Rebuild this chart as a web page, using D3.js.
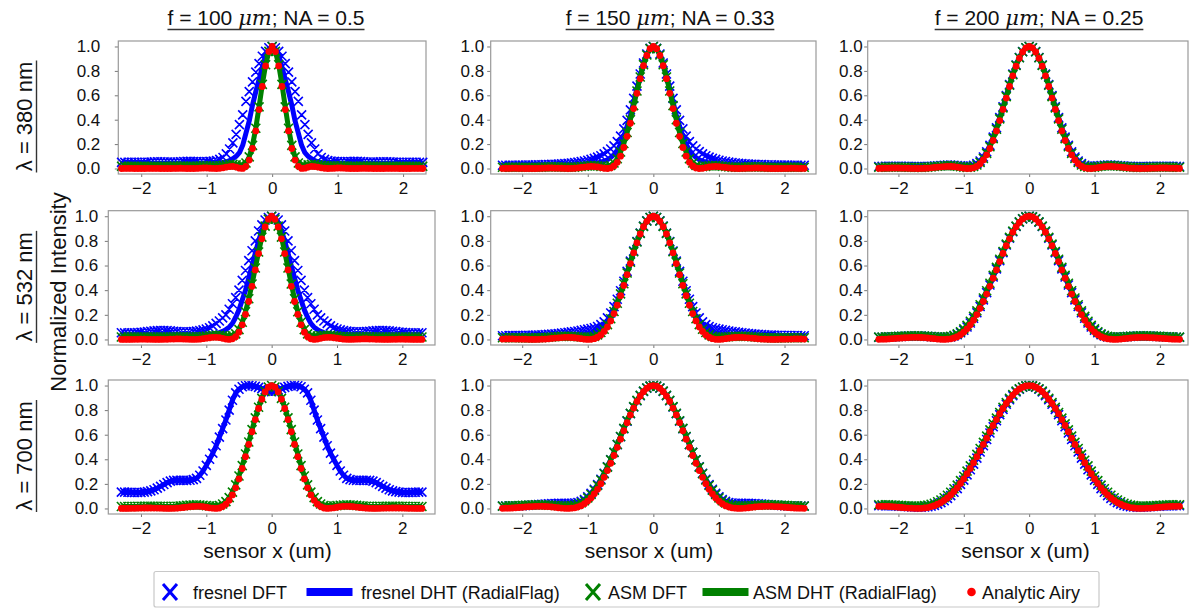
<!DOCTYPE html>
<html>
<head>
<meta charset="utf-8">
<script src="https://cdn.jsdelivr.net/npm/d3@7"></script>
<style>
  body { margin: 0; background: #fff; }
  svg { display: block; }
  text { font-family: "Liberation Sans", Arial, sans-serif; fill: #111; }
</style>
</head>
<body>
<svg id="fig" width="1189" height="609"></svg>
<script>
// sensor positions (um); profiles are radially symmetric so only x >= 0 is listed
var xHalf = [0,0.05,0.1,0.15,0.2,0.25,0.3,0.35,0.4,0.45,
             0.5,0.55,0.6,0.65,0.7,0.75,0.8,0.85,0.9,0.95,
             1.0,1.05,1.1,1.15,1.2,1.25,1.3,1.35,1.4,1.45,
             1.5,1.55,1.6,1.65,1.7,1.75,1.8,1.85,1.9,1.95,
             2.0,2.05,2.1,2.15,2.2,2.25,2.3];

var wavelengths = ["380", "532", "700"];
var focalLengths = ["100", "150", "200"];
var apertures = ["0.5", "0.33", "0.25"];
var xTicks = [-2, -1, 0, 1, 2];
var yTicks = [0, 0.2, 0.4, 0.6, 0.8, 1.0];
var legendLabels = ["fresnel DFT", "fresnel DHT (RadialFlag)", "ASM DFT", "ASM DHT (RadialFlag)", "Analytic Airy"];

// ---- lambda = 380 nm ----
var airy_380_050 = [1.000,0.958,0.841,0.672,0.483,0.308,0.164,0.069,0.018,0.001,
  0.003,0.012,0.017,0.016,0.012,0.006,0.002,0.000,0.001,0.002,
  0.004,0.004,0.003,0.001,0.000,0.000,0.000,0.001,0.002,0.001,
  0.001,0.000,0.000,0.000,0.000,0.001,0.001,0.001,0.001,0.000,
  0.000,0.000,0.000,0.001,0.001,0.001,0.000];
var asm_380_050 = [1.000,0.960,0.850,0.690,0.505,0.330,0.190,0.095,0.045,0.027,
  0.025,0.030,0.034,0.034,0.030,0.026,0.022,0.020,0.020,0.021,
  0.022,0.022,0.021,0.020,0.019,0.019,0.019,0.020,0.020,0.020,
  0.020,0.019,0.019,0.019,0.019,0.019,0.019,0.019,0.019,0.019,
  0.019,0.019,0.019,0.019,0.019,0.019,0.019];
var fresDHT_380_050 = [1.000,0.980,0.930,0.830,0.730,0.630,0.520,0.390,0.290,0.190,
  0.130,0.100,0.080,0.065,0.055,0.050,0.048,0.046,0.045,0.045,
  0.045,0.045,0.045,0.044,0.044,0.044,0.044,0.044,0.044,0.044,
  0.043,0.043,0.043,0.043,0.043,0.043,0.043,0.043,0.042,0.042,
  0.042,0.042,0.042,0.042,0.042,0.042,0.042];
var fresDFT_380_050 = [1.000,0.990,0.960,0.920,0.860,0.790,0.710,0.630,0.550,0.440,
  0.360,0.280,0.210,0.160,0.120,0.090,0.075,0.065,0.060,0.058,
  0.056,0.055,0.055,0.056,0.057,0.058,0.058,0.057,0.055,0.053,
  0.052,0.052,0.053,0.054,0.055,0.055,0.054,0.052,0.051,0.050,
  0.050,0.050,0.051,0.051,0.051,0.050,0.050];

var airy_380_033 = [1.000,0.982,0.926,0.842,0.736,0.616,0.491,0.371,0.264,0.172,
  0.101,0.051,0.021,0.005,0.000,0.002,0.008,0.013,0.016,0.017,
  0.015,0.012,0.009,0.005,0.002,0.001,0.000,0.001,0.002,0.003,
  0.003,0.004,0.004,0.003,0.002,0.001,0.000,0.000,0.000,0.000,
  0.001,0.001,0.002,0.002,0.001,0.001,0.001];
var asm_380_033 = [1.000,0.983,0.930,0.850,0.750,0.635,0.515,0.400,0.295,0.205,
  0.135,0.080,0.045,0.025,0.016,0.015,0.018,0.022,0.024,0.024,
  0.022,0.019,0.016,0.013,0.011,0.010,0.010,0.011,0.012,0.013,
  0.013,0.013,0.013,0.012,0.011,0.010,0.010,0.010,0.010,0.010,
  0.010,0.010,0.011,0.011,0.010,0.010,0.010];
var fresDHT_380_033 = [1.000,0.984,0.934,0.857,0.762,0.655,0.545,0.440,0.345,0.265,
  0.200,0.150,0.115,0.090,0.072,0.060,0.052,0.046,0.042,0.039,
  0.037,0.035,0.034,0.033,0.032,0.031,0.030,0.030,0.029,0.029,
  0.028,0.028,0.028,0.027,0.027,0.027,0.027,0.026,0.026,0.026,
  0.026,0.026,0.026,0.026,0.026,0.026,0.026];
var fresDFT_380_033 = [1.000,0.985,0.938,0.865,0.775,0.675,0.575,0.480,0.395,0.325,
  0.265,0.220,0.185,0.160,0.138,0.120,0.105,0.093,0.083,0.075,
  0.068,0.062,0.057,0.052,0.048,0.045,0.042,0.040,0.038,0.036,
  0.035,0.034,0.033,0.032,0.031,0.030,0.030,0.029,0.029,0.028,
  0.028,0.028,0.027,0.027,0.027,0.027,0.027];

var airy_380_025 = [1.000,0.989,0.955,0.904,0.839,0.760,0.672,0.577,0.484,0.393,
  0.308,0.230,0.164,0.112,0.070,0.039,0.018,0.006,0.001,0.000,
  0.003,0.007,0.012,0.015,0.017,0.017,0.016,0.014,0.012,0.009,
  0.006,0.003,0.002,0.001,0.000,0.001,0.001,0.002,0.003,0.003,
  0.004,0.004,0.004,0.003,0.003,0.002,0.001];
var asm_380_025 = [1.000,0.990,0.957,0.908,0.845,0.768,0.682,0.589,0.497,0.407,
  0.322,0.245,0.178,0.124,0.082,0.050,0.029,0.016,0.010,0.009,
  0.011,0.015,0.019,0.022,0.024,0.024,0.023,0.021,0.019,0.016,
  0.013,0.011,0.010,0.009,0.009,0.009,0.010,0.010,0.011,0.011,
  0.012,0.012,0.012,0.011,0.011,0.010,0.010];
var fresDFT_380_025 = [1.000,0.990,0.958,0.910,0.848,0.773,0.688,0.597,0.506,0.417,
  0.333,0.257,0.190,0.136,0.094,0.062,0.040,0.027,0.020,0.018,
  0.019,0.022,0.025,0.027,0.028,0.028,0.027,0.025,0.023,0.021,
  0.019,0.017,0.016,0.016,0.016,0.016,0.016,0.017,0.017,0.018,
  0.018,0.018,0.018,0.018,0.017,0.017,0.016];

// ---- lambda = 532 nm ----
var airy_532_050 = [1.000,0.976,0.913,0.817,0.697,0.564,0.431,0.308,0.203,0.119,
  0.059,0.022,0.005,0.000,0.003,0.009,0.015,0.017,0.017,0.014,
  0.010,0.006,0.002,0.001,0.000,0.001,0.002,0.003,0.004,0.004,
  0.003,0.003,0.001,0.001,0.000,0.000,0.000,0.001,0.001,0.002,
  0.002,0.001,0.001,0.000,0.000,0.000,0.000];
var asm_532_050 = [1.000,0.977,0.920,0.830,0.710,0.580,0.450,0.330,0.225,0.140,
  0.080,0.045,0.030,0.025,0.027,0.030,0.033,0.034,0.033,0.030,
  0.027,0.024,0.022,0.021,0.020,0.020,0.020,0.021,0.021,0.021,
  0.021,0.020,0.020,0.020,0.020,0.020,0.020,0.020,0.020,0.020,
  0.020,0.020,0.020,0.020,0.020,0.020,0.020];
var fresDHT_532_050 = [1.000,0.985,0.950,0.880,0.800,0.700,0.600,0.500,0.400,0.320,
  0.240,0.180,0.130,0.100,0.080,0.065,0.055,0.050,0.045,0.043,
  0.042,0.041,0.041,0.040,0.040,0.040,0.040,0.040,0.040,0.040,
  0.040,0.040,0.040,0.040,0.040,0.040,0.040,0.040,0.040,0.040,
  0.040,0.040,0.040,0.040,0.040,0.040,0.040];
var fresDFT_532_050 = [1.000,0.990,0.970,0.930,0.880,0.800,0.720,0.640,0.560,0.480,
  0.400,0.340,0.290,0.245,0.200,0.175,0.150,0.130,0.110,0.095,
  0.085,0.078,0.072,0.068,0.065,0.063,0.062,0.062,0.063,0.065,
  0.067,0.070,0.072,0.073,0.073,0.072,0.070,0.067,0.064,0.060,
  0.057,0.055,0.053,0.052,0.052,0.053,0.054];

var airy_532_033 = [1.000,0.990,0.959,0.915,0.856,0.784,0.703,0.616,0.526,0.438,
  0.355,0.278,0.210,0.150,0.101,0.065,0.037,0.018,0.006,0.001,
  0.000,0.002,0.006,0.010,0.014,0.016,0.017,0.017,0.015,0.013,
  0.011,0.008,0.005,0.003,0.002,0.001,0.000,0.000,0.001,0.002,
  0.002,0.003,0.003,0.004,0.004,0.004,0.003];
var asm_532_033 = [1.000,0.990,0.961,0.918,0.861,0.791,0.712,0.627,0.539,0.452,
  0.370,0.294,0.227,0.168,0.120,0.083,0.056,0.037,0.025,0.019,
  0.017,0.018,0.020,0.022,0.024,0.025,0.026,0.026,0.025,0.024,
  0.022,0.020,0.018,0.016,0.015,0.014,0.013,0.013,0.013,0.013,
  0.013,0.014,0.014,0.014,0.014,0.014,0.014];
var fresDHT_532_033 = [1.000,0.990,0.961,0.919,0.862,0.793,0.715,0.631,0.545,0.460,
  0.380,0.308,0.245,0.190,0.145,0.110,0.085,0.068,0.057,0.050,
  0.046,0.044,0.042,0.041,0.040,0.039,0.038,0.037,0.036,0.035,
  0.034,0.033,0.032,0.031,0.030,0.030,0.029,0.029,0.029,0.028,
  0.028,0.028,0.028,0.028,0.028,0.028,0.028];
var fresDFT_532_033 = [1.000,0.990,0.962,0.920,0.863,0.795,0.718,0.636,0.553,0.472,
  0.395,0.326,0.266,0.215,0.175,0.143,0.120,0.105,0.095,0.089,
  0.084,0.079,0.074,0.069,0.065,0.061,0.057,0.054,0.051,0.048,
  0.045,0.043,0.041,0.039,0.037,0.036,0.035,0.034,0.033,0.033,
  0.032,0.032,0.031,0.031,0.031,0.030,0.030];

var airy_532_025 = [1.000,0.995,0.978,0.950,0.914,0.871,0.817,0.761,0.698,0.632,
  0.564,0.497,0.431,0.368,0.308,0.253,0.202,0.156,0.119,0.086,
  0.060,0.039,0.022,0.012,0.005,0.002,0.000,0.001,0.003,0.006,
  0.009,0.012,0.015,0.016,0.017,0.017,0.017,0.015,0.014,0.012,
  0.010,0.008,0.006,0.004,0.002,0.002,0.001];
var asm_532_025 = [1.000,0.995,0.980,0.954,0.920,0.879,0.828,0.774,0.714,0.651,
  0.585,0.520,0.456,0.395,0.336,0.282,0.232,0.187,0.148,0.114,
  0.086,0.063,0.045,0.033,0.025,0.021,0.019,0.019,0.020,0.022,
  0.024,0.026,0.027,0.028,0.029,0.029,0.029,0.028,0.027,0.026,
  0.025,0.023,0.022,0.021,0.020,0.019,0.019];
var fresDFT_532_025 = [1.000,0.995,0.979,0.952,0.917,0.874,0.822,0.767,0.705,0.640,
  0.573,0.507,0.442,0.380,0.321,0.267,0.217,0.172,0.134,0.101,
  0.075,0.054,0.038,0.028,0.021,0.018,0.017,0.018,0.019,0.021,
  0.023,0.025,0.026,0.027,0.028,0.028,0.028,0.027,0.026,0.025,
  0.024,0.022,0.021,0.020,0.019,0.018,0.018];

// ---- lambda = 700 nm ----
var airy_700_050 = [1.000,0.987,0.948,0.889,0.813,0.723,0.624,0.521,0.421,0.325,
  0.240,0.168,0.110,0.066,0.035,0.015,0.004,0.000,0.002,0.005,
  0.010,0.014,0.017,0.017,0.016,0.014,0.011,0.008,0.005,0.002,
  0.001,0.000,0.000,0.001,0.002,0.003,0.003,0.004,0.004,0.004,
  0.003,0.002,0.001,0.001,0.000,0.000,0.000];
var asm_700_050 = [1.000,0.988,0.952,0.895,0.823,0.737,0.641,0.541,0.443,0.349,
  0.264,0.192,0.133,0.088,0.056,0.036,0.024,0.019,0.018,0.020,
  0.023,0.026,0.028,0.029,0.028,0.027,0.025,0.022,0.020,0.018,
  0.017,0.016,0.016,0.017,0.017,0.018,0.018,0.018,0.018,0.018,
  0.017,0.017,0.016,0.016,0.016,0.016,0.016];
var fres_700_050 = [0.950,0.955,0.965,0.975,0.985,0.993,0.998,1.000,0.998,0.990,
  0.970,0.940,0.880,0.800,0.720,0.650,0.580,0.510,0.450,0.400,
  0.350,0.305,0.270,0.245,0.235,0.230,0.228,0.228,0.229,0.230,
  0.228,0.222,0.210,0.195,0.180,0.165,0.152,0.143,0.137,0.133,
  0.130,0.130,0.130,0.131,0.132,0.133,0.133];

var airy_700_033 = [1.000,0.995,0.978,0.950,0.914,0.871,0.817,0.761,0.698,0.632,
  0.564,0.497,0.431,0.368,0.308,0.253,0.202,0.156,0.119,0.086,
  0.060,0.039,0.022,0.012,0.005,0.002,0.000,0.001,0.003,0.006,
  0.009,0.012,0.015,0.016,0.017,0.017,0.017,0.015,0.014,0.012,
  0.010,0.008,0.006,0.004,0.002,0.002,0.001];
var asm_700_033 = [1.000,0.995,0.980,0.954,0.920,0.879,0.828,0.774,0.714,0.651,
  0.585,0.520,0.456,0.395,0.336,0.282,0.232,0.187,0.148,0.114,
  0.086,0.063,0.045,0.033,0.025,0.021,0.019,0.019,0.020,0.022,
  0.024,0.026,0.027,0.028,0.029,0.029,0.029,0.028,0.027,0.026,
  0.025,0.023,0.022,0.021,0.020,0.019,0.019];
var fresDFT_700_033 = [1.000,0.995,0.979,0.953,0.918,0.876,0.825,0.771,0.711,0.648,
  0.583,0.519,0.456,0.396,0.339,0.286,0.238,0.194,0.156,0.123,
  0.095,0.073,0.058,0.049,0.044,0.042,0.041,0.041,0.041,0.041,
  0.040,0.039,0.038,0.036,0.034,0.032,0.030,0.028,0.026,0.024,
  0.022,0.021,0.020,0.020,0.020,0.020,0.020];

var airy_700_025 = [1.000,0.997,0.987,0.972,0.951,0.922,0.889,0.854,0.813,0.771,
  0.723,0.675,0.624,0.572,0.521,0.470,0.421,0.372,0.325,0.283,
  0.240,0.204,0.168,0.138,0.110,0.086,0.066,0.048,0.035,0.022,
  0.015,0.007,0.004,0.001,0.000,0.001,0.002,0.003,0.005,0.008,
  0.010,0.012,0.014,0.016,0.017,0.017,0.017];
var asm_700_025 = [1.000,0.997,0.988,0.974,0.954,0.927,0.895,0.861,0.822,0.781,
  0.735,0.688,0.639,0.588,0.538,0.488,0.440,0.392,0.346,0.304,
  0.262,0.226,0.190,0.160,0.132,0.108,0.087,0.069,0.055,0.042,
  0.034,0.027,0.023,0.020,0.019,0.019,0.020,0.021,0.022,0.024,
  0.025,0.027,0.028,0.029,0.030,0.030,0.030];
var fresDFT_700_025 = [1.000,0.997,0.986,0.970,0.948,0.918,0.884,0.848,0.806,0.763,
  0.714,0.665,0.614,0.561,0.510,0.459,0.410,0.361,0.315,0.273,
  0.231,0.196,0.161,0.132,0.105,0.082,0.063,0.047,0.035,0.025,
  0.019,0.014,0.012,0.011,0.011,0.012,0.013,0.014,0.016,0.018,
  0.019,0.020,0.021,0.022,0.022,0.022,0.022];

// one entry per subplot (row = wavelength, col = lens)
var panels = [
  {r:0, c:0, fDFT:fresDFT_380_050, fDHT:fresDHT_380_050, asm:asm_380_050, airy:airy_380_050},
  {r:0, c:1, fDFT:fresDFT_380_033, fDHT:fresDHT_380_033, asm:asm_380_033, airy:airy_380_033},
  {r:0, c:2, fDFT:fresDFT_380_025, fDHT:fresDFT_380_025, asm:asm_380_025, airy:airy_380_025},
  {r:1, c:0, fDFT:fresDFT_532_050, fDHT:fresDHT_532_050, asm:asm_532_050, airy:airy_532_050},
  {r:1, c:1, fDFT:fresDFT_532_033, fDHT:fresDHT_532_033, asm:asm_532_033, airy:airy_532_033},
  {r:1, c:2, fDFT:fresDFT_532_025, fDHT:fresDFT_532_025, asm:asm_532_025, airy:airy_532_025},
  {r:2, c:0, fDFT:fres_700_050,    fDHT:fres_700_050,    asm:asm_700_050, airy:airy_700_050},
  {r:2, c:1, fDFT:fresDFT_700_033, fDHT:fresDFT_700_033, asm:asm_700_033, airy:airy_700_033},
  {r:2, c:2, fDFT:fresDFT_700_025, fDHT:fresDFT_700_025, asm:asm_700_025, airy:airy_700_025}
];

var BLUE = "#0000ff", GREEN = "#008000", RED = "#ff0000";

var svg = d3.select("#fig");

// layout of the subplot boxes
var rowBox = [[41, 174], [210.7, 345], [380, 514]];
var colBox = [
  {left:108.3, right:435,  dom:[-2.5, 2.5],   gap:10},
  {left:490.7, right:816,  dom:[-2.48, 2.48], gap:6.5},
  {left:867.7, right:1188, dom:[-2.47, 2.43], gap:5}
];
var firstBox = {left:118.3, right:426, dom:[-2.35, 2.35], gap:18}; // top-left panel is a bit narrower

var xFull = xHalf.slice(1).reverse().map(function(v) { return -v; }).concat(xHalf);
function mirror(h) { return h.slice(1).reverse().concat(h); }
function pts(h) {
  var v = mirror(h);
  return xFull.map(function(x, i) { return [x, v[i]]; });
}

function crosses(g, data, x, y, color, h, sw) {
  g.append("path")
    .attr("fill", "none")
    .attr("stroke", color)
    .attr("stroke-width", sw)
    .attr("d", data.map(function(d) {
      var px = x(d[0]), py = y(d[1]);
      return "M" + (px - h) + "," + (py - h) + "L" + (px + h) + "," + (py + h) +
             "M" + (px - h) + "," + (py + h) + "L" + (px + h) + "," + (py - h);
    }).join(""));
}

panels.forEach(function(p) {
  var cb = (p.r === 0 && p.c === 0) ? firstBox : colBox[p.c];
  var top = rowBox[p.r][0], bottom = rowBox[p.r][1];
  var x = d3.scaleLinear().domain(cb.dom).range([cb.left, cb.right]);
  var y = d3.scaleLinear().domain([-0.045, 1.045]).range([bottom, top]);
  var g = svg.append("g");

  // axes
  var ya = g.append("g").attr("transform", "translate(" + cb.left + ",0)")
    .call(d3.axisLeft(y).tickValues(yTicks).tickSize(3.5).tickPadding(cb.gap - 3.5).tickFormat(d3.format(".1f")));
  var xa = g.append("g").attr("transform", "translate(0," + bottom + ")")
    .call(d3.axisBottom(x).tickValues(xTicks).tickSize(3).tickPadding(4.5).tickFormat(d3.format("d")));
  [ya, xa].forEach(function(a) {
    a.select(".domain").remove();
    a.attr("font-family", null).attr("font-size", null);
    a.selectAll(".tick line").attr("stroke", "#777");
    a.selectAll(".tick text").style("font-size", "17px").attr("fill", "#111");
  });

  g.append("rect")
    .attr("x", cb.left).attr("y", top)
    .attr("width", cb.right - cb.left).attr("height", bottom - top)
    .attr("fill", "#fff").attr("stroke", "#999").attr("stroke-width", 1.2);

  var line = d3.line().x(function(d) { return x(d[0]); }).y(function(d) { return y(d[1]); });

  crosses(g, pts(p.fDFT), x, y, BLUE, 4.5, 1.6);
  g.append("path").attr("d", line(pts(p.fDHT))).attr("fill", "none")
    .attr("stroke", BLUE).attr("stroke-width", 5).attr("stroke-linejoin", "round");
  crosses(g, pts(p.asm), x, y, GREEN, 4.5, 1.6);
  g.append("path").attr("d", line(pts(p.asm))).attr("fill", "none")
    .attr("stroke", GREEN).attr("stroke-width", 5).attr("stroke-linejoin", "round");
  g.selectAll("circle.airy").data(pts(p.airy)).enter().append("circle")
    .attr("class", "airy")
    .attr("cx", function(d) { return x(d[0]); })
    .attr("cy", function(d) { return y(d[1]); })
    .attr("r", 3.4).attr("fill", RED);
});

// column titles (underlined)
var titleX = [266, 670, 1039];
focalLengths.forEach(function(f, i) {
  var t = svg.append("text").attr("x", titleX[i]).attr("y", 25)
    .attr("text-anchor", "middle").style("font-size", "21px");
  t.append("tspan").text("f = " + f + " ");
  t.append("tspan").style("font-family", "'DejaVu Serif', serif").style("font-style", "italic").text("\u03bcm");
  t.append("tspan").text("; NA = " + apertures[i]);
  var w = t.node().getComputedTextLength();
  svg.append("line").attr("x1", titleX[i] - w / 2).attr("x2", titleX[i] + w / 2)
    .attr("y1", 29.5).attr("y2", 29.5).attr("stroke", "#333").attr("stroke-width", 1.4);
});

// row labels (rotated, underlined)
wavelengths.forEach(function(wl, i) {
  var cy = (rowBox[i][0] + rowBox[i][1]) / 2 + 9;
  svg.append("text").attr("transform", "translate(31.5," + cy + ") rotate(-90)")
    .attr("text-anchor", "middle").style("font-size", "22px")
    .text("\u03bb = " + wl + " nm");
  svg.append("line").attr("x1", 36.5).attr("x2", 36.5)
    .attr("y1", cy - 56).attr("y2", cy + 56).attr("stroke", "#333").attr("stroke-width", 1.4);
});

svg.append("text").attr("transform", "translate(66,292) rotate(-90)")
  .attr("text-anchor", "middle").style("font-size", "22px").text("Normalized Intensity");

var xLabelX = [267.5, 649, 1025.5];
xLabelX.forEach(function(cx) {
  svg.append("text").attr("x", cx).attr("y", 558)
    .attr("text-anchor", "middle").style("font-size", "21px").text("sensor x (um)");
});

// legend
var lg = svg.append("g");
lg.append("rect").attr("x", 154).attr("y", 571.5).attr("width", 945).attr("height", 35.5)
  .attr("rx", 2).attr("fill", "#fff").attr("stroke", "#c8c8c8").attr("stroke-width", 1.2);
var ly = 592;
function legendCross(cx, color) {
  lg.append("path").attr("fill", "none").attr("stroke", color).attr("stroke-width", 3)
    .attr("d", "M" + (cx - 7) + "," + (ly - 8) + "L" + (cx + 7) + "," + (ly + 8) +
               "M" + (cx - 7) + "," + (ly + 8) + "L" + (cx + 7) + "," + (ly - 8));
}
function legendText(x0, s) {
  lg.append("text").attr("x", x0).attr("y", ly + 6.5).style("font-size", "18px").text(s);
}
legendCross(170, BLUE);
legendText(193, legendLabels[0]);
lg.append("rect").attr("x", 306.5).attr("y", ly - 4).attr("width", 46).attr("height", 8).attr("fill", BLUE);
legendText(361, legendLabels[1]);
legendCross(593, GREEN);
legendText(608, legendLabels[2]);
lg.append("rect").attr("x", 702.5).attr("y", ly - 4).attr("width", 46).attr("height", 8).attr("fill", GREEN);
legendText(753, legendLabels[3]);
lg.append("circle").attr("cx", 971.5).attr("cy", ly).attr("r", 4.3).attr("fill", RED);
legendText(982, legendLabels[4]);
</script>
</body>
</html>
